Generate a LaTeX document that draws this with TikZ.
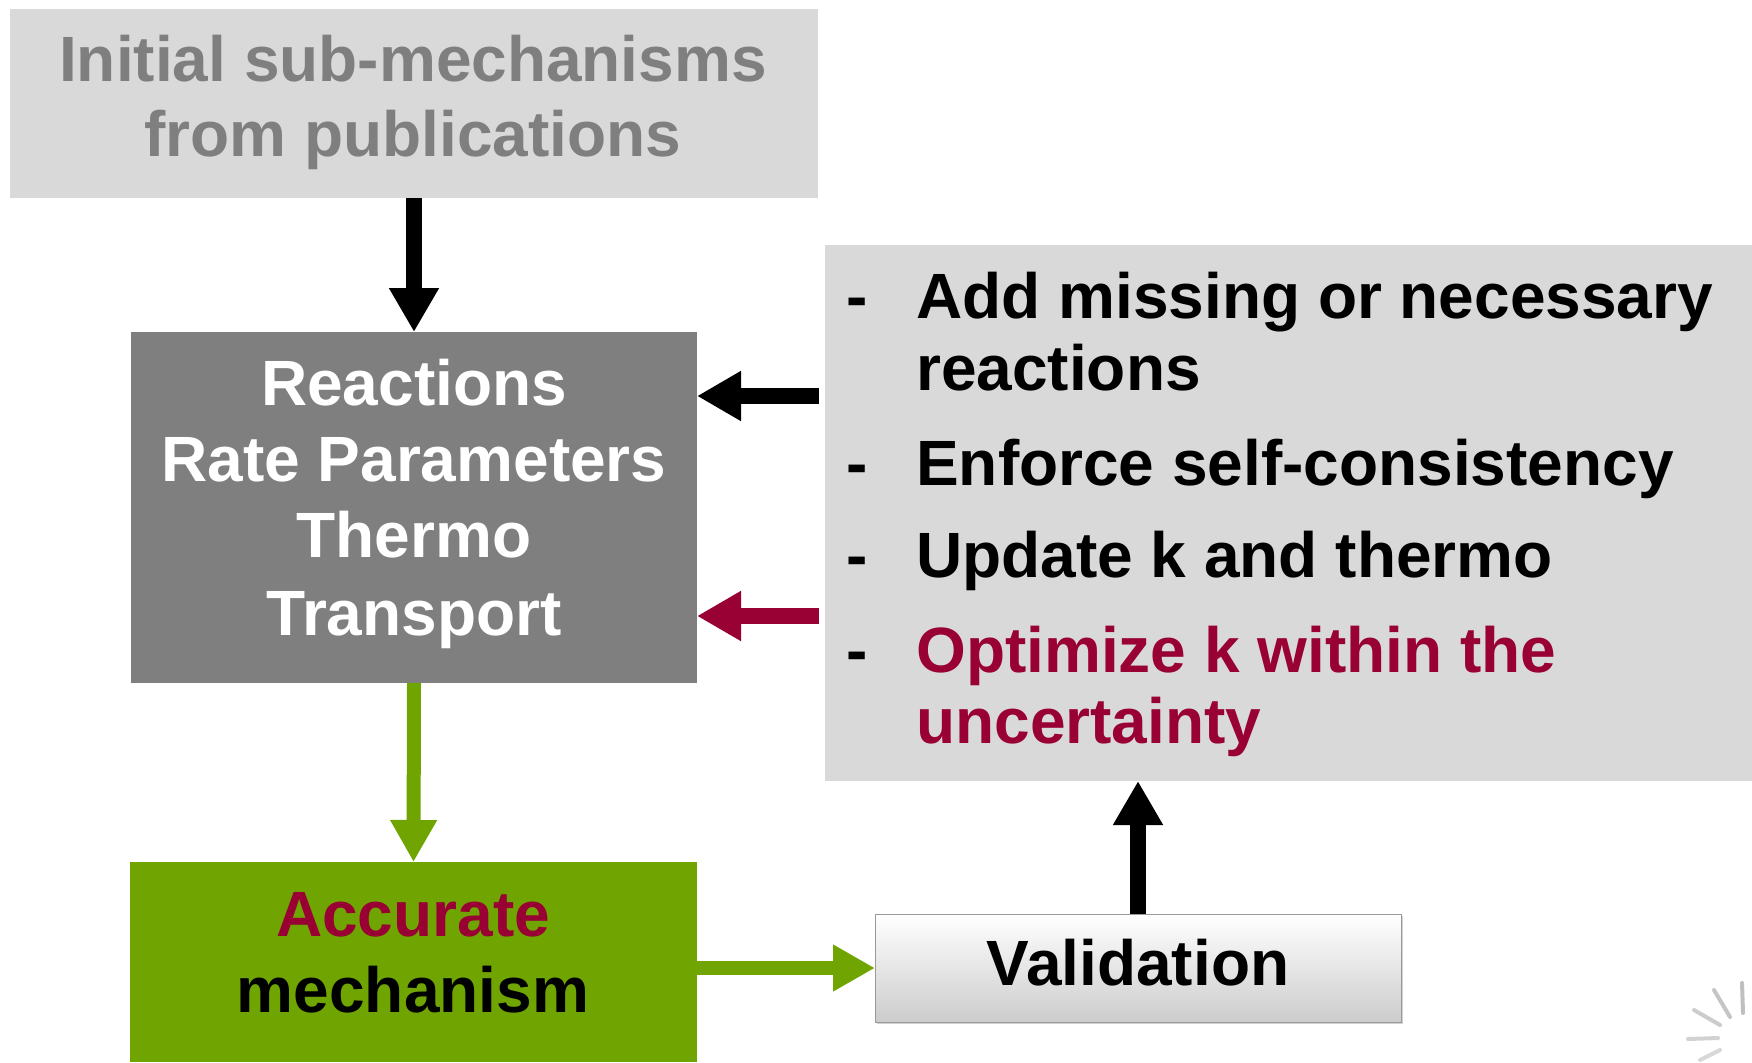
\documentclass[tikz,border=0pt]{standalone}
\usepackage{fontspec}
\setmainfont{Liberation Sans}
\usetikzlibrary{arrows.meta,shadows}
\definecolor{panelgray}{HTML}{D9D9D9}
\definecolor{coregray}{HTML}{7F7F7F}
\definecolor{leafgreen}{HTML}{70A400}
\definecolor{wine}{HTML}{990033}
\tikzset{
  panel/.style={rectangle, inner sep=0pt, outer sep=0pt},
  boxtext/.style={font=\bfseries\fontsize{64}{76}\selectfont, inner sep=0pt, anchor=base},
  itemtext/.style={font=\bfseries\fontsize{64}{76}\selectfont, inner sep=0pt, anchor=base west},
  flow/.style={line width=16pt, -{Triangle[length=44pt,width=47pt]}},
  greenflow/.style={leafgreen, line width=14pt, -{Triangle[length=42pt,width=44pt]}},
  spoke/.style={line width=4pt, line cap=round, gray},
}
\begin{document}
\begin{tikzpicture}[x=1pt,y=-1pt]
\useasboundingbox (0,0) rectangle (1752,1062);
\fill[white] (0,0) rectangle (1752,1062);

% boxes
\node[panel, fill=panelgray, minimum width=808pt, minimum height=189pt] (src) at (414,103.5) {};
\node[panel, fill=coregray, minimum width=566pt, minimum height=351pt] (core) at (414,507.5) {};
\node[panel, fill=panelgray, minimum width=927pt, minimum height=536pt] (tasks) at (1288.5,513) {};
\node[panel, fill=leafgreen, minimum width=567pt, minimum height=200pt] (acc) at (413.5,962) {};
\node[panel, top color=white, bottom color=black!20, draw=black!40, line width=1pt,
      drop shadow={shadow xshift=2pt, shadow yshift=-2pt, opacity=0.35},
      minimum width=526pt, minimum height=108pt] (val) at (1138,968) {};

% texts of the source box
\node[boxtext, text=coregray] (src1) at (413,82) {Initial sub-mechanisms};
\node[boxtext, text=coregray] (src2) at (413,156) {from publications};

% texts of the core box
\node[boxtext, text=white] (core1) at (414,405) {Reactions};
\node[boxtext, text=white] (core2) at (414,481) {Rate Parameters};
\node[boxtext, text=white] (core3) at (414,557) {Thermo};
\node[boxtext, text=white] (core4) at (414,635) {Transport};

% task list
\node[itemtext] (d1) at (846,318) {-};
\node[itemtext] (t1) at (916,318) {Add missing or necessary};
\node[itemtext] (t1b) at (916,390) {reactions};
\node[itemtext] (d2) at (846,485) {-};
\node[itemtext] (t2) at (916,485) {Enforce self-consistency};
\node[itemtext] (d3) at (846,577) {-};
\node[itemtext] (t3) at (916,577) {Update k and thermo};
\node[itemtext] (d4) at (846,672) {-};
\node[itemtext, text=wine] (t4) at (916,672) {Optimize k within the};
\node[itemtext, text=wine] (t4b) at (916,743) {uncertainty};

% result and validation
\node[boxtext, text=wine] (acc1) at (413,936) {Accurate};
\node[boxtext] (acc2) at (413,1012) {mechanism};
\node[boxtext] (val1) at (1138,985) {Validation};

% connectors
\draw[flow] (src.south) -- (core.north);
\draw[flow, shorten <=6pt] (tasks.west |- 0,396) -- (core.east |- 0,396);
\draw[flow, wine, shorten <=6pt] (tasks.west |- 0,616) -- (core.east |- 0,616);
\draw[greenflow] (core.south) -- (acc.north);
\draw[greenflow] (acc.east |- val.west) -- (val.west);
\draw[flow] (val.north) -- (val.north |- tasks.south);

% faint busy indicator in the corner
\draw[spoke, opacity=0.5] (1742,983) -- (1743,1013);
\draw[spoke, opacity=0.45] (1714,990) -- (1730,1017);
\draw[spoke, opacity=0.4] (1694,1010) -- (1720,1025);
\draw[spoke, opacity=0.35] (1688,1039) -- (1718,1038);
\draw[spoke, opacity=0.3] (1700,1060) -- (1720,1050);
\end{tikzpicture}
\end{document}
